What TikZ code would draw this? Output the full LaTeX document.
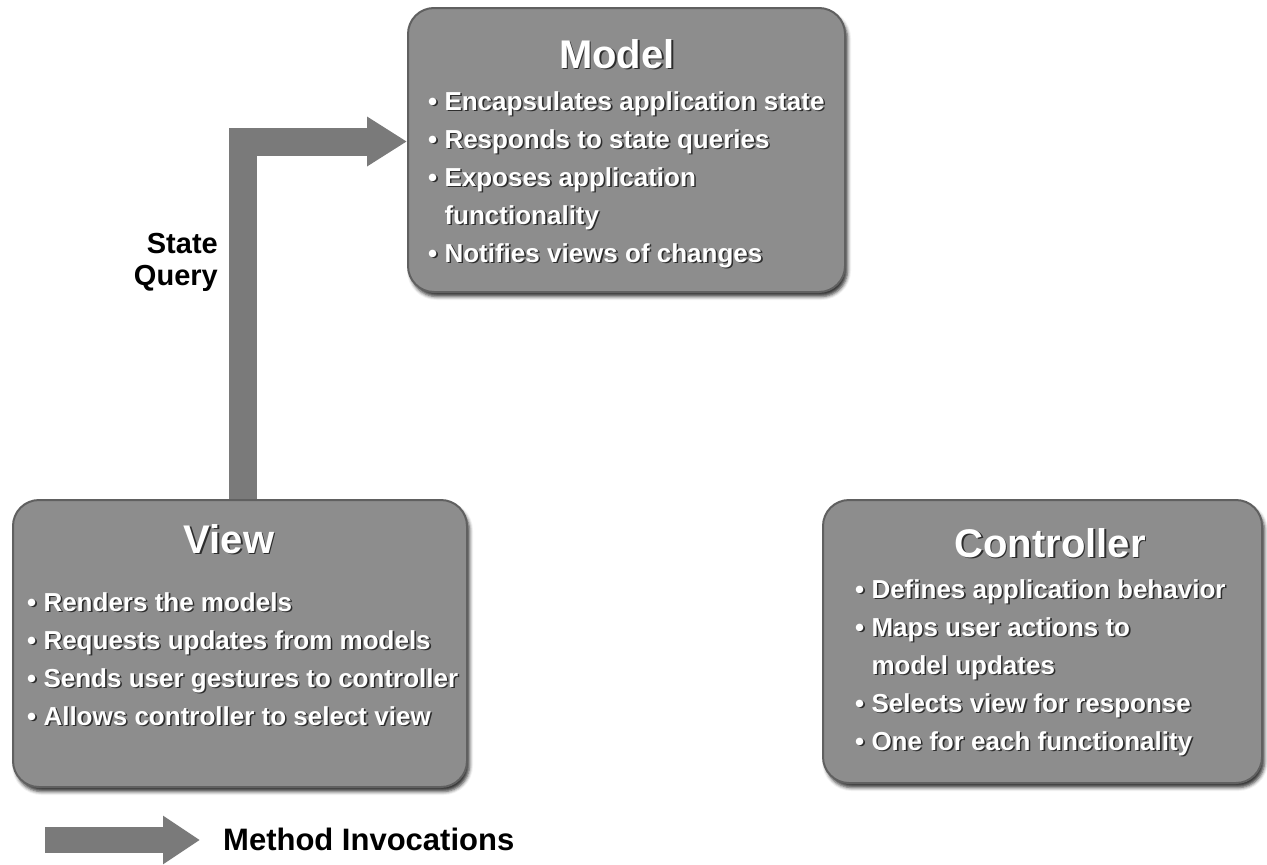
\documentclass[tikz,border=0pt]{standalone}
\usepackage{fontspec}
\setmainfont{Liberation Sans}
\usetikzlibrary{arrows.meta,shadows.blur}

\definecolor{boxfill}{RGB}{141,141,141}
\definecolor{boxedge}{RGB}{96,96,96}
\definecolor{flowgray}{RGB}{122,122,122}
\definecolor{embshadow}{RGB}{45,45,45}

% white lettering with a dark offset shadow
\newcommand{\emb}[1]{\leavevmode\rlap{\kern1.6pt\raisebox{-1.6pt}{\textcolor{embshadow}{#1}}}\textcolor{white}{#1}}
% indent for a wrapped bullet line
\newcommand{\cont}{\phantom{•\ }}

\begin{document}
\begin{tikzpicture}[x=1pt,y=-1pt,
  mvcbox/.style={rounded corners=26pt, fill=boxfill, draw=boxedge, line width=2pt,
    blur shadow={shadow xshift=2.5pt, shadow yshift=-4.5pt, shadow blur radius=3.5pt,
      shadow opacity=80},
    inner sep=0pt},
  boxtitle/.style={anchor=base, inner sep=0pt, font=\fontsize{40}{48}\selectfont\bfseries},
  % multi-line bodies are anchored on the baseline of their last line
  boxbody/.style={anchor=base west, inner sep=0pt, align=left,
    font=\fontsize{26}{38}\selectfont\bfseries},
  flow/.style={draw=flowgray, line width=28pt, -{Triangle[length=40pt,width=47pt]}},
  caption/.style={inner sep=0pt, text=black}
]
\useasboundingbox (0,0) rectangle (1267,865);

% the three components
\node[mvcbox, minimum width=437pt, minimum height=284pt] (model) at (626.5,150) {};
\node[mvcbox, minimum width=454pt, minimum height=287pt] (view) at (240,643.5) {};
\node[mvcbox, minimum width=439pt, minimum height=283pt] (controller) at (1042.5,641.5) {};

% state query flow from the view up to the model
\draw[flow] ([xshift=2.5pt]view.north) |- ([yshift=8.5pt]model.west);

\node[boxtitle] (model-title) at (617,68) {\emb{Model}};
\node[boxbody] (model-body) at (428,262) {%
  \emb{• Encapsulates application state}\\
  \emb{• Responds to state queries}\\
  \emb{• Exposes application}\\
  \cont\emb{functionality}\\
  \emb{• Notifies views of changes}};

\node[boxtitle] (view-title) at (229,553) {\emb{View}};
\node[boxbody] (view-body) at (27,725) {%
  \emb{• Renders the models}\\
  \emb{• Requests updates from models}\\
  \emb{• Sends user gestures to controller}\\
  \emb{• Allows controller to select view}};

\node[boxtitle] (controller-title) at (1050,557) {\emb{Controller}};
\node[boxbody] (controller-body) at (855,750) {%
  \emb{• Defines application behavior}\\
  \emb{• Maps user actions to}\\
  \cont\emb{model updates}\\
  \emb{• Selects view for response}\\
  \emb{• One for each functionality}};

\node[caption, anchor=base east, align=right, font=\fontsize{29}{32}\selectfont\bfseries]
  (state-query) at (218,285) {State\\Query};

% legend
\node[caption, anchor=base west, font=\fontsize{31}{36}\selectfont\bfseries]
  (legend) at (223,850) {Method Invocations};
\coordinate (legend-tail) at (45,840);
\coordinate (legend-tip) at (200,840);
\draw[flow, line width=26pt, -{Triangle[length=37pt,width=46pt]}] (legend-tail) -- (legend-tip);
\end{tikzpicture}
\end{document}
